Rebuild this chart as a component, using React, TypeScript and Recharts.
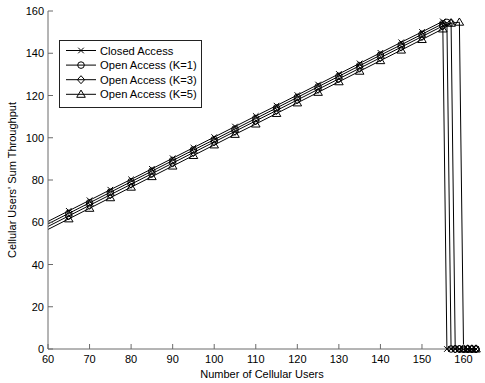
import React from 'react';
import { LineChart, Line, XAxis, YAxis, Legend, Label } from 'recharts';

// x values (number of cellular users)
const users = [60, 65, 70, 75, 80, 85, 90, 95, 100, 105, 110, 115, 120, 125, 130, 135, 140, 145, 150, 155, 156, 157, 158, 159, 160, 161, 162, 163];

const closedAccess = [60.4, 65.4, 70.4, 75.4, 80.3, 85.3, 90.3, 95.3, 100.3, 105.3, 110.3, 115.2, 120.2, 125.2, 130.2, 135.2, 140.2, 145.2, 150.1, 155.1, 0, 0, 0, 0, 0, 0, 0, 0];
const openK1 = [59.2, 64.2, 69.2, 74.2, 79.2, 84.2, 89.2, 94.2, 99.1, 104.1, 109.1, 114.1, 119.1, 124.1, 129.1, 134.1, 139.1, 144.0, 149.0, 154.0, 154.6, 0, 0, 0, 0, 0, 0, 0];
const openK3 = [58.0, 63.0, 68.0, 73.0, 78.0, 83.0, 88.0, 93.0, 98.0, 103.0, 108.0, 112.9, 117.9, 122.9, 127.9, 132.9, 137.9, 142.9, 147.9, 152.9, null, 154.5, 0, 0, 0, 0, 0, 0];
const openK5 = [56.6, 61.6, 66.6, 71.6, 76.6, 81.6, 86.6, 91.6, 96.6, 101.6, 106.5, 111.5, 116.5, 121.5, 126.5, 131.5, 136.5, 141.5, 146.5, 151.5, null, 154.2, null, 154.7, 0, 0, 0, 0];

const xTicks = [60, 70, 80, 90, 100, 110, 120, 130, 140, 150, 160];
const yTicks = [0, 20, 40, 60, 80, 100, 120, 140, 160];

const seriesInfo = [
  { key: 'closed', name: 'Closed Access', marker: 'cross' },
  { key: 'k1', name: 'Open Access (K=1)', marker: 'circle' },
  { key: 'k3', name: 'Open Access (K=3)', marker: 'diamond' },
  { key: 'k5', name: 'Open Access (K=5)', marker: 'triangle' },
];

const data = users.map((u, i) => ({
  users: u,
  closed: closedAccess[i],
  k1: openK1[i],
  k3: openK3[i],
  k5: openK5[i],
}));

const FONT = 'Liberation Sans, Arial, Helvetica, sans-serif';
const AXIS = '#6a6a6a';
const INK = '#000';

function marker(kind: string, cx: number, cy: number, key?: any) {
  switch (kind) {
    case 'cross':
      return (
        <g key={key}>
          <line x1={cx - 2.8} y1={cy - 2.8} x2={cx + 2.8} y2={cy + 2.8} stroke={INK} strokeWidth={1} />
          <line x1={cx - 2.8} y1={cy + 2.8} x2={cx + 2.8} y2={cy - 2.8} stroke={INK} strokeWidth={1} />
        </g>
      );
    case 'circle':
      return <circle key={key} cx={cx} cy={cy} r={3.3} fill="none" stroke={INK} strokeWidth={1} />;
    case 'diamond':
      return (
        <polygon key={key} points={`${cx},${cy - 4} ${cx + 3.6},${cy} ${cx},${cy + 4} ${cx - 3.6},${cy}`} fill="none" stroke={INK} strokeWidth={1} />
      );
    default:
      return (
        <polygon key={key} points={`${cx},${cy - 4.2} ${cx + 4.3},${cy + 3} ${cx - 4.3},${cy + 3}`} fill="none" stroke={INK} strokeWidth={1} />
      );
  }
}

const makeDot = (kind: string) => (props: any) => {
  const { cx, cy, index, value } = props;
  if (index === 0 || value === null || value === undefined || cx == null || cy == null) {
    return <g key={`d-${kind}-${index}`} />;
  }
  return marker(kind, cx, cy, `d-${kind}-${index}`);
};

const BottomTick = (props: any) => {
  const { x, y, payload } = props;
  return (
    <g>
      <line x1={x} y1={y} x2={x} y2={y - 5} stroke={AXIS} />
      <text x={x} y={y + 14} textAnchor="middle" fontSize={11} fontFamily={FONT} fill={INK}>
        {payload.value}
      </text>
    </g>
  );
};

const TopTick = (props: any) => {
  const { x, y } = props;
  return <line x1={x} y1={y} x2={x} y2={y + 5} stroke={AXIS} />;
};

const LeftTick = (props: any) => {
  const { x, y, payload } = props;
  return (
    <g>
      <line x1={x} y1={y} x2={x + 5} y2={y} stroke={AXIS} />
      <text x={x - 4} y={y + 4} textAnchor="end" fontSize={11} fontFamily={FONT} fill={INK}>
        {payload.value}
      </text>
    </g>
  );
};

const RightTick = (props: any) => {
  const { x, y } = props;
  return <line x1={x} y1={y} x2={x - 5} y2={y} stroke={AXIS} />;
};

const LegendBox = () => (
  <div style={{ width: 141, height: 66, border: '1px solid #222', background: '#fff', boxSizing: 'content-box' }}>
    <svg width={141} height={66}>
      {seriesInfo.map((s, i) => {
        const cy = 9.5 + i * 14.6;
        return (
          <g key={s.key}>
            <line x1={6} y1={cy} x2={36} y2={cy} stroke={INK} strokeWidth={1} />
            {marker(s.marker, 21, cy)}
            <text x={40} y={cy + 4} fontSize={11.2} fontFamily={FONT} fill={INK}>
              {s.name}
            </text>
          </g>
        );
      })}
    </svg>
  </div>
);

export default function App() {
  return (
    <div style={{ position: 'absolute', left: 0, top: 0, width: 485, height: 383, background: '#fff' }}>
      <LineChart width={485} height={383} data={data} margin={{ top: 11, right: 9, left: 0, bottom: 0 }}>
        <XAxis
          dataKey="users"
          type="number"
          domain={[60, 163]}
          ticks={xTicks}
          interval={0}
          tickLine={false}
          tickSize={0}
          tickMargin={0}
          tick={<BottomTick />}
          axisLine={{ stroke: AXIS }}
          height={34}
        >
          <Label
            content={(p: any) => {
              const vb = p.viewBox;
              return (
                <text x={vb.x + vb.width / 2} y={vb.y + 29} textAnchor="middle" fontSize={11} fontFamily={FONT} fill={INK}>
                  Number of Cellular Users
                </text>
              );
            }}
          />
        </XAxis>
        <XAxis
          xAxisId="top"
          orientation="top"
          dataKey="users"
          type="number"
          domain={[60, 163]}
          ticks={xTicks}
          interval={0}
          tickLine={false}
          tickSize={0}
          tickMargin={0}
          tick={<TopTick />}
          axisLine={{ stroke: AXIS }}
          height={0}
        />
        <YAxis
          type="number"
          domain={[0, 160]}
          ticks={yTicks}
          interval={0}
          tickLine={false}
          tickSize={0}
          tickMargin={0}
          tick={<LeftTick />}
          axisLine={{ stroke: AXIS }}
          width={48}
        >
          <Label
            content={(p: any) => {
              const vb = p.viewBox;
              const cx = vb.x + 12;
              const cy = vb.y + vb.height / 2;
              return (
                <text x={cx} y={cy} transform={`rotate(-90 ${cx} ${cy})`} textAnchor="middle" dominantBaseline="central" fontSize={11} fontFamily={FONT} fill={INK}>
                  Cellular Users' Sum Throughput
                </text>
              );
            }}
          />
        </YAxis>
        <YAxis
          yAxisId="right"
          orientation="right"
          type="number"
          domain={[0, 160]}
          ticks={yTicks}
          interval={0}
          tickLine={false}
          tickSize={0}
          tickMargin={0}
          tick={<RightTick />}
          axisLine={{ stroke: AXIS }}
          width={0}
        />
        <Legend
          layout="horizontal"
          verticalAlign="middle"
          align="center"
          content={() => <LegendBox />}
          wrapperStyle={{ position: 'absolute', left: 59, top: 40, width: 'auto', height: 'auto' }}
        />
        {seriesInfo.map((s) => (
          <Line
            key={s.key}
            dataKey={s.key}
            name={s.name}
            type="linear"
            stroke={INK}
            strokeWidth={1}
            connectNulls
            dot={makeDot(s.marker)}
            activeDot={false}
            isAnimationActive={false}
          />
        ))}
      </LineChart>
    </div>
  );
}
